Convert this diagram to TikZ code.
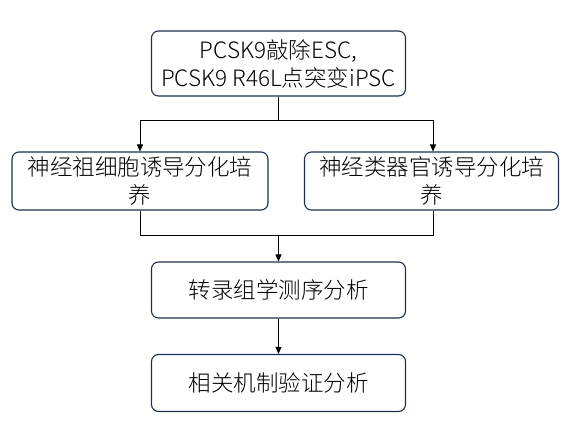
\documentclass[tikz,border=0pt]{standalone}
\usepackage{fontspec}
\setmainfont{Noto Sans CJK SC}[UprightFont=* Light]
\usetikzlibrary{arrows.meta}
\definecolor{boxline}{HTML}{1F3050}
\begin{document}
\begin{tikzpicture}[x=1pt,y=1pt,
  box/.style={draw=boxline,line width=1.1pt,rounded corners=7pt,fill=white,
    align=center,inner sep=0pt,font=\fontsize{22.5}{28}\selectfont},
  conn/.style={line width=0.9pt,black},
  arr/.style={conn,-{Triangle[length=7pt,width=6pt]}}]
\useasboundingbox (0,0) rectangle (584,-426);
\node[box,minimum width=254pt,minimum height=65pt] (top) at (278.5,-63.5)
  {PCSK9敲除ESC,\\PCSK9 R46L点突变iPSC};
\node[box,minimum width=256pt,minimum height=58pt] (left) at (140,-181)
  {神经祖细胞诱导分化培\\养};
\node[box,minimum width=254pt,minimum height=58pt] (right) at (431.5,-181)
  {神经类器官诱导分化培\\养};
\node[box,minimum width=254pt,minimum height=56pt] (seq) at (278.5,-290)
  {转录组学测序分析};
\node[box,minimum width=254pt,minimum height=57pt] (val) at (278.5,-383)
  {相关机制验证分析};
\coordinate (split) at (278.5,-120);
\coordinate (splitL) at (140,-120);
\coordinate (splitR) at (433,-120);
\coordinate (joinL) at (140,-235);
\coordinate (joinR) at (433,-235);
\coordinate (join) at (278.5,-235);
\draw[conn] (top.south) -- (split);
\draw[conn] (splitL) -- (splitR);
\draw[arr] (splitL) -- (left.north);
\draw[arr] (splitR) -- (right.north -| splitR);
\draw[conn] (left.south) -- (joinL) -- (joinR) -- (right.south -| joinR);
\draw[arr] (join) -- (seq.north);
\draw[arr] (seq.south) -- (val.north);
\end{tikzpicture}
\end{document}
